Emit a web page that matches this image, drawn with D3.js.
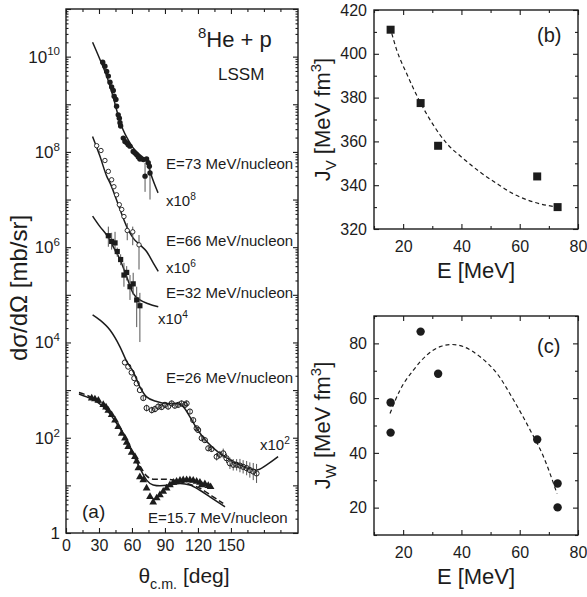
<!DOCTYPE html>
<html>
<head>
<meta charset="utf-8">
<script src="https://cdn.jsdelivr.net/npm/d3@7"></script>
<style>
  body { margin: 0; background: #fff; }
  text { font-family: "Liberation Sans", Arial, sans-serif; fill: #1c1c1c; }
</style>
</head>
<body>
<svg id="fig" width="587" height="597"></svg>
<script>
// ---------- (a) differential cross sections, 8He + p (scaled by the factors shown) ----------
const thetaTicks = [0, 30, 60, 90, 120, 150];
const thetaMinor = [15, 45, 75, 105, 135, 165, 180, 195];
const decadeLabels = [1, 1e2, 1e4, 1e6, 1e8, 1e10];

// E = 73 MeV/nucleon (x10^8)
const th73 = [33.4, 35.4, 37.0, 38.5, 40.0, 41.5, 43.0, 43.8, 45.4, 46.0, 47.5, 48.5, 49.1, 49.7, 52.1, 53.6, 55.2, 56.6, 58.2, 61.1, 62.7, 64.3, 65.8, 67.2, 70.3, 73.3, 74.8, 75.8, 76.4, 71.9];
const cs73 = [7.6e9, 6.3e9, 4.9e9, 3.9e9, 2.9e9, 2.3e9, 1.95e9, 1.48e9, 1.26e9, 9.1e8, 6.0e8, 5.1e8, 4.1e8, 3.5e8, 1.95e8, 1.66e8, 1.55e8, 1.41e8, 1.32e8, 1.02e8, 9.5e7, 8.7e7, 7.8e7, 7.1e7, 6.9e7, 7.1e7, 5.9e7, 5.0e7, 3.6e7, 3.1e7];
const lo73 = [null, null, null, null, null, null, null, null, null, null, null, null, null, null, null, null, null, null, null, null, null, null, null, null, null, null, null, null, 1.0e7, 1.45e7];
const hi73 = [null, null, null, null, null, null, null, null, null, null, null, null, null, null, null, null, null, null, null, null, null, null, null, null, null, null, null, null, 5.4e7, 5.9e7];
const thFit73 = [24.2, 30.9, 37.0, 42.8, 47.3, 51.8, 56.4, 60.9, 67.2, 73.3, 79.0, 83.7];
const csFit73 = [2.0e10, 8.7e9, 3.9e9, 1.45e9, 6.0e8, 2.95e8, 1.82e8, 1.23e8, 8.7e7, 6.3e7, 2.6e7, 1.38e7];

// E = 66 MeV/nucleon (x10^6)
const th66 = [27.9, 31.8, 35.4, 38.5, 41.5, 43.6, 46.0, 48.5, 50.7, 52.7, 55.7, 60.7, 66.4];
const cs66 = [1.35e8, 1.07e8, 6.6e7, 3.9e7, 2.6e7, 1.86e7, 1.26e7, 7.8e6, 6.2e6, 4.4e6, 2.24e6, 2.1e6, 1.12e6];
const lo66 = [null, null, null, null, null, null, null, null, null, null, 1.4e6, 1.1e6, 3.4e5];
const hi66 = [null, null, null, null, null, null, null, null, null, null, 3.2e6, 2.7e6, 1.8e6];
const thFit66 = [24.2, 30.9, 37.0, 40.0, 49.1, 55.2, 61.1, 67.2, 73.3, 79.3, 83.9];
const csFit66 = [2.1e8, 8.1e7, 3.1e7, 2.24e7, 6.2e6, 2.7e6, 1.55e6, 1.12e6, 8.1e5, 4.7e5, 3.1e5];

// E = 32 MeV/nucleon (x10^4)
const th32 = [38.5, 41.5, 44.6, 46.6, 49.7, 52.7, 55.2, 58.2, 61.1, 64.3, 67.2];
const cs32 = [1.74e6, 1.32e6, 1.23e6, 8.1e5, 5.5e5, 2.6e5, 2.95e5, 1.48e5, 1.7e5, 7.8e4, 5.9e4];
const lo32 = [1.02e6, 8.9e5, 8.1e5, 6.3e5, 4.2e5, 1.48e5, 2.0e5, 7.8e4, 1.0e5, 2.1e4, 1.02e4];
const hi32 = [2.7e6, 2.0e6, 2.1e6, 9.8e5, 7.1e5, 4.7e5, 4.0e5, 2.6e5, 2.9e5, 1.48e5, 1.1e5];
const thFit32 = [24.2, 30.9, 37.0, 43.0, 49.1, 55.2, 61.1, 67.2, 74.8, 83.9];
const csFit32 = [4.5e6, 2.7e6, 1.8e6, 1.02e6, 5.5e5, 2.4e5, 1.07e5, 7.8e4, 6.5e4, 5.6e4];

// E = 26 MeV/nucleon (x10^2)
const th26 = [53.6, 56.6, 59.7, 62.1, 64.3, 67.2, 70.3, 73.3, 78.0, 80.9, 83.9, 87.0, 90.0, 92.9, 96.1, 99.0, 102.1, 105.1, 108.2, 109.7, 112.7, 115.7, 118.8, 120.2, 123.4, 126.3, 129.4, 132.4, 137.0, 139.9, 143.0, 146.0, 149.1, 152.1, 155.2, 158.2, 161.1, 164.3, 167.2, 170.3, 173.3];
const cs26 = [3800, 3100, 2340, 1780, 1380, 1000, 680, 420, 380, 400, 450, 440, 490, 450, 525, 470, 490, 525, 490, 525, 355, 234, 158, 145, 98, 89, 60, 58, 40, 44, 47, 37, 29, 27, 27, 26, 24.5, 23, 21, 19.5, 17.8];
const err26 = [0, 0, 0, 0, 0, 0, 0.05, 0.07, 0.07, 0.07, 0.07, 0.06, 0.06, 0.06, 0.06, 0.06, 0.06, 0.06, 0.06, 0.06, 0.05, 0.05, 0.05, 0.05, 0.05, 0.05, 0.06, 0.06, 0.08, 0.08, 0.1, 0.1, 0.12, 0.12, 0.12, 0.14, 0.14, 0.15, 0.16, 0.18, 0.2];
const thFit26 = [24.2, 30.9, 40.0, 49.1, 55.2, 61.1, 67.2, 73.3, 82.5, 91.5, 100.6, 106.6, 112.7, 118.8, 127.9, 139.9, 152.1, 164.3, 173.3, 182.5, 192.9];
const csFit26 = [3.8e4, 2.95e4, 1.82e4, 8100, 4000, 2450, 1170, 720, 575, 525, 525, 450, 275, 158, 83, 47, 32, 23.4, 21, 27, 40];

// E = 15.7 MeV/nucleon (unscaled)
const th157 = [23.4, 26.3, 29.4, 33.9, 36.4, 38.5, 41.5, 44.6, 47.5, 50.7, 53.6, 55.2, 56.6, 59.7, 62.7, 64.3, 65.8, 67.2, 70.3, 73.3, 76.4, 79.3, 82.5, 85.4, 88.4, 91.5, 94.5, 97.6, 100.6, 103.7, 106.6, 109.7, 112.7, 115.7, 118.8, 121.8, 123.4, 126.3, 129.4, 131.5];
const cs157 = [676, 646, 603, 490, 437, 372, 302, 234, 170, 123, 98, 79, 65, 49, 40, 32, 23, 15, 12.9, 8.7, 5.75, 4.4, 5.4, 6.3, 7.4, 8.7, 10.2, 11.5, 12, 12.6, 12.9, 12.9, 12.9, 12.6, 12, 11.5, 10.2, 10.7, 9.8, 9.3];
const thFit157 = [11.8, 18.8, 27.9, 37.0, 46.0, 55.2, 61.1, 67.2, 73.3, 79.3, 85.4, 94.5, 103.7, 112.7, 121.8, 130.9, 139.9, 144.6];
const csFit157 = [830, 720, 575, 380, 200, 89, 44, 23, 12.9, 10.2, 9.8, 10.2, 11, 10.2, 7.9, 5.75, 4.2, 3.55];
const thFit157b = [11.8, 18.8, 27.9, 37.0, 46.0, 55.2, 61.1, 67.2, 73.3, 79.3, 88.4, 97.6, 109.7, 121.8, 133.9, 143.0];
const csFit157b = [890, 780, 600, 410, 210, 93, 48, 26, 15.8, 13.5, 13.5, 12.9, 11, 8.7, 5.75, 4.2];

// ---------- (b) real volume integrals J_V ----------
const energyTicks = [20, 40, 60, 80];
const energyMinor = [10, 30, 50, 70];
const jvTicks = [320, 340, 360, 380, 400, 420];
const jvMinor = [330, 350, 370, 390, 410];
const eJv = [15.7, 26, 32, 66, 73];
const jv = [411, 377.5, 358, 344, 330];
const eJvFit = [16.1, 17.8, 21.2, 25.8, 30.4, 35.0, 39.9, 46.4, 52.2, 57.9, 64.8, 72.8];
const jvFit = [409.3, 401.7, 391, 378, 367.4, 359, 353, 346, 340.7, 336, 332.3, 330];

// ---------- (c) imaginary volume integrals J_W ----------
const jwTicks = [20, 40, 60, 80];
const jwMinor = [10, 30, 50, 70, 90];
const eJw = [15.7, 15.7, 26, 32, 66, 73, 73];
const jw = [58.4, 47.4, 84.3, 68.9, 44.9, 28.8, 20.1];
const eJwFit = [15.5, 18.9, 23.5, 28.1, 32.7, 36.7, 40.7, 46.4, 52.2, 57.9, 63.6, 68.2, 72.8];
const jwFit = [54.4, 62.9, 70.2, 75.7, 78.8, 79.6, 78.8, 75.1, 69, 59.3, 48.3, 38.5, 25.1];

// ---------- drawing ----------
const ink = "#1c1c1c";
const svg = d3.select("#fig");

// rich text with sub/superscript parts: "plain" or [text, "sup"|"sub"]
function richText(parent, x, y, parts, size, anchor = "start", rotate = 0) {
  const t = parent.append("text").attr("x", x).attr("y", y)
    .attr("font-size", size).attr("text-anchor", anchor);
  if (rotate) t.attr("transform", `rotate(${rotate},${x},${y})`);
  let shift = 0;
  parts.forEach(p => {
    const [s, kind] = typeof p === "string" ? [p, null] : p;
    const target = kind === "sup" ? -0.42 : kind === "sub" ? 0.28 : 0;
    const ts = t.append("tspan").text(s).attr("dy", ((target - shift) * size).toFixed(2));
    if (kind) ts.attr("font-size", size * 0.68);
    shift = target;
  });
  return t;
}

function styleAxis(g) {
  g.select(".domain").remove();
  g.selectAll(".tick line").attr("stroke", ink).attr("stroke-width", 1.1);
  g.selectAll(".tick text").attr("fill", ink).attr("font-size", 16)
    .attr("font-family", "'Liberation Sans', Arial, sans-serif");
}

function frame(box) {
  svg.append("rect").attr("x", box.l).attr("y", box.t)
    .attr("width", box.r - box.l).attr("height", box.b - box.t)
    .attr("fill", "none").attr("stroke", ink).attr("stroke-width", 1.4);
}

// boxed panel with inward major and minor ticks on all four sides
function linearPanel(box, x, y, xt, xm, yt, ym, pad) {
  const g = svg.append("g");
  const add = (axis, tx, ty) => g.append("g").attr("transform", `translate(${tx},${ty})`).call(axis).call(styleAxis);
  add(d3.axisBottom(x).tickValues(xt).tickSize(-5).tickPadding(pad).tickFormat(d3.format("d")), 0, box.b);
  add(d3.axisBottom(x).tickValues(xm).tickSize(-3).tickFormat(""), 0, box.b);
  add(d3.axisTop(x).tickValues(xt).tickSize(-5).tickFormat(""), 0, box.t);
  add(d3.axisTop(x).tickValues(xm).tickSize(-3).tickFormat(""), 0, box.t);
  add(d3.axisLeft(y).tickValues(yt).tickSize(-5).tickPadding(7).tickFormat(d3.format("d")), box.l, 0);
  add(d3.axisLeft(y).tickValues(ym).tickSize(-3).tickFormat(""), box.l, 0);
  add(d3.axisRight(y).tickValues(yt).tickSize(-5).tickFormat(""), box.r, 0);
  add(d3.axisRight(y).tickValues(ym).tickSize(-3).tickFormat(""), box.r, 0);
  frame(box);
  return g;
}

// ----- panel (a) -----
const A = { l: 66, r: 298, t: 9, b: 533 };
const xA = d3.scaleLinear().domain([0, 211]).range([A.l, A.r]);
const yA = d3.scaleLog().domain([1, 1e11]).range([A.b, A.t]);

const decades = d3.range(0, 12).map(k => Math.pow(10, k));
const logMinor = [];
decades.slice(0, 11).forEach(d => { for (let m = 2; m <= 9; m++) logMinor.push(d * m); });

{
  const g = svg.append("g");
  const add = (axis, tx, ty) => g.append("g").attr("transform", `translate(${tx},${ty})`).call(axis).call(styleAxis);
  add(d3.axisBottom(xA).tickValues(thetaTicks).tickSize(-5).tickPadding(7).tickFormat(d3.format("d")), 0, A.b);
  add(d3.axisBottom(xA).tickValues(thetaMinor).tickSize(-3).tickFormat(""), 0, A.b);
  add(d3.axisTop(xA).tickValues(thetaTicks).tickSize(-5).tickFormat(""), 0, A.t);
  add(d3.axisTop(xA).tickValues(thetaMinor).tickSize(-3).tickFormat(""), 0, A.t);
  add(d3.axisLeft(yA).tickValues(decades).tickSize(-5).tickFormat(""), A.l, 0);
  add(d3.axisLeft(yA).tickValues(logMinor).tickSize(-2.5).tickFormat(""), A.l, 0);
  add(d3.axisRight(yA).tickValues(decades).tickSize(-5).tickFormat(""), A.r, 0);
  add(d3.axisRight(yA).tickValues(logMinor).tickSize(-2.5).tickFormat(""), A.r, 0);
  frame(A);
  decadeLabels.forEach(v => {
    const e = Math.round(Math.log10(v));
    const parts = e === 0 ? ["1"] : ["10", [String(e), "sup"]];
    richText(svg, A.l - 6, yA(v) + 6, parts, 17, "end");
  });
}

const lineA = d3.line().x(d => xA(d[0])).y(d => yA(d[1])).curve(d3.curveMonotoneX);
const pairs = (a, b) => a.map((v, i) => [v, b[i]]);

function fitCurve(th, cs, dash) {
  svg.append("path").datum(pairs(th, cs)).attr("d", lineA)
    .attr("fill", "none").attr("stroke", ink).attr("stroke-width", 1.5)
    .attr("stroke-dasharray", dash || null);
}
function errorBars(th, lo, hi) {
  th.forEach((t, i) => {
    if (lo[i] == null) return;
    svg.append("line").attr("x1", xA(t)).attr("x2", xA(t))
      .attr("y1", yA(lo[i])).attr("y2", yA(hi[i]))
      .attr("stroke", "#555").attr("stroke-width", 1);
  });
}

fitCurve(thFit73, csFit73);
fitCurve(thFit66, csFit66);
fitCurve(thFit32, csFit32);
fitCurve(thFit26, csFit26);
fitCurve(thFit157, csFit157);
fitCurve(thFit157b, csFit157b, "6,3");

errorBars(th73, lo73, hi73);
errorBars(th66, lo66, hi66);
errorBars(th32, lo32, hi32);
errorBars(th26, cs26.map((c, i) => err26[i] ? c / Math.pow(10, err26[i]) : null), cs26.map((c, i) => c * Math.pow(10, err26[i])));

// markers
svg.append("g").selectAll("circle").data(pairs(th73, cs73)).join("circle")
  .attr("cx", d => xA(d[0])).attr("cy", d => yA(d[1])).attr("r", 2.7).attr("fill", ink);
svg.append("g").selectAll("circle").data(pairs(th66, cs66)).join("circle")
  .attr("cx", d => xA(d[0])).attr("cy", d => yA(d[1])).attr("r", 2.2)
  .attr("fill", "#fff").attr("stroke", ink).attr("stroke-width", 0.9);
svg.append("g").selectAll("rect").data(pairs(th32, cs32)).join("rect")
  .attr("x", d => xA(d[0]) - 2.6).attr("y", d => yA(d[1]) - 2.6)
  .attr("width", 5.2).attr("height", 5.2).attr("fill", ink);
svg.append("g").selectAll("circle").data(pairs(th26, cs26)).join("circle")
  .attr("cx", d => xA(d[0])).attr("cy", d => yA(d[1])).attr("r", 2.6)
  .attr("fill", "none").attr("stroke", ink).attr("stroke-width", 1);
const tri = d3.symbol().type(d3.symbolTriangle).size(26);
svg.append("g").selectAll("path").data(pairs(th157, cs157)).join("path")
  .attr("transform", d => `translate(${xA(d[0])},${yA(d[1])})`)
  .attr("d", tri).attr("fill", ink);

// panel (a) annotations
richText(svg, 198, 47, [["8", "sup"], "He + p"], 22);
richText(svg, 218, 80, ["LSSM"], 17);
richText(svg, 166, 169, ["E=73 MeV/nucleon"], 15);
richText(svg, 166, 206, ["x10", ["8", "sup"]], 15);
richText(svg, 166, 246, ["E=66 MeV/nucleon"], 15);
richText(svg, 166, 273, ["x10", ["6", "sup"]], 15);
richText(svg, 166, 298, ["E=32 MeV/nucleon"], 15);
richText(svg, 158, 324, ["x10", ["4", "sup"]], 15);
richText(svg, 166, 383, ["E=26 MeV/nucleon"], 15);
richText(svg, 260, 450, ["x10", ["2", "sup"]], 15);
richText(svg, 148, 523, ["E=15.7 MeV/nucleon"], 15);
richText(svg, 82, 518, ["(a)"], 19);
richText(svg, 184, 583, ["θ", ["c.m.", "sub"], " [deg]"], 21, "middle");
richText(svg, 27, 288, ["dσ/dΩ [mb/sr]"], 24, "middle", -90);

// ----- panel (b) -----
const B = { l: 374, r: 578, t: 10, b: 229 };
const xB = d3.scaleLinear().domain([10, 80]).range([B.l, B.r]);
const yB = d3.scaleLinear().domain([320, 420]).range([B.b, B.t]);
linearPanel(B, xB, yB, energyTicks, energyMinor, jvTicks, jvMinor, 12);
svg.append("path").datum(pairs(eJvFit, jvFit))
  .attr("d", d3.line().x(d => xB(d[0])).y(d => yB(d[1])).curve(d3.curveMonotoneX))
  .attr("fill", "none").attr("stroke", ink).attr("stroke-width", 1.2).attr("stroke-dasharray", "4,3");
svg.append("g").selectAll("rect").data(pairs(eJv, jv)).join("rect")
  .attr("x", d => xB(d[0]) - 4).attr("y", d => yB(d[1]) - 4)
  .attr("width", 8).attr("height", 8).attr("fill", ink);
richText(svg, 537, 42, ["(b)"], 20);
richText(svg, (B.l + B.r) / 2, 278, ["E [MeV]"], 22, "middle");
richText(svg, 330, (B.t + B.b) / 2, ["J", ["V", "sub"], " [MeV fm", ["3", "sup"], "]"], 22, "middle", -90);

// ----- panel (c) -----
const C = { l: 374, r: 578, t: 316, b: 535 };
const xC = d3.scaleLinear().domain([10, 80]).range([C.l, C.r]);
const yC = d3.scaleLinear().domain([10, 90]).range([C.b, C.t]);
linearPanel(C, xC, yC, energyTicks, energyMinor, jwTicks, jwMinor, 12);
svg.append("path").datum(pairs(eJwFit, jwFit))
  .attr("d", d3.line().x(d => xC(d[0])).y(d => yC(d[1])).curve(d3.curveMonotoneX))
  .attr("fill", "none").attr("stroke", ink).attr("stroke-width", 1.2).attr("stroke-dasharray", "4,3");
svg.append("g").selectAll("circle").data(pairs(eJw, jw)).join("circle")
  .attr("cx", d => xC(d[0])).attr("cy", d => yC(d[1])).attr("r", 4.2).attr("fill", ink);
richText(svg, 537, 353, ["(c)"], 20);
richText(svg, (C.l + C.r) / 2, 584, ["E [MeV]"], 22, "middle");
richText(svg, 330, (C.t + C.b) / 2, ["J", ["W", "sub"], " [MeV fm", ["3", "sup"], "]"], 22, "middle", -90);
</script>
</body>
</html>
